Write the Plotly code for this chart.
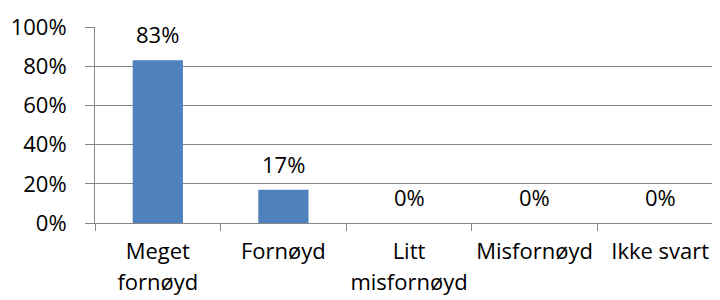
import plotly.graph_objects as go

categories = ["Meget fornøyd", "Fornøyd", "Litt misfornøyd", "Misfornøyd", "Ikke svart"]
tick_labels = ["Meget<br>fornøyd", "Fornøyd", "Litt<br>misfornøyd", "Misfornøyd", "Ikke svart"]
values = [0.83, 0.17, 0.0, 0.0, 0.0]
y_ticks = [0, 0.2, 0.4, 0.6, 0.8, 1.0]
y_tick_labels = ["0%", "20%", "40%", "60%", "80%", "100%"]

FONT = "Open Sans"
FS = 22
GRID = "#878787"
BAR = "#4F81BD"

fig = go.Figure()
fig.add_trace(go.Bar(
    x=categories,
    y=values,
    marker=dict(color=BAR, line=dict(width=0)),
    width=0.4,
    hoverinfo="skip",
))

for c, v in zip(categories, values):
    fig.add_annotation(
        x=c, y=v, text=f"{v:.0%}", showarrow=False,
        yshift=26, yanchor="middle",
        font=dict(family=FONT, size=FS, color="black"),
    )

span = f'<span style="font-size:{FS}px">'
x_tick_text = [span + t.replace("<br>", "</span><br>" + span) + "</span>" for t in tick_labels]

# page body has an 8px margin: compensate so the plot lands where the reference has it
fig.update_layout(
    width=720, height=300,
    margin=dict(l=87, r=5, t=19, b=85),
    paper_bgcolor="white", plot_bgcolor="white",
    showlegend=False,
    font=dict(family=FONT, size=FS, color="black"),
)
fig.update_xaxes(
    range=[-0.5, 4.5], automargin=False,
    tickvals=categories, ticktext=x_tick_text,
    showline=True, linecolor=GRID, linewidth=1,
    ticks="outside", tickson="boundaries", ticklen=7, tickcolor=GRID,
    showgrid=False, tickangle=0, ticklabelstandoff=7,
    tickfont=dict(family=FONT, size=23.5, color="black"),
)
fig.update_yaxes(
    range=[0, 1], automargin=False,
    tickvals=y_ticks, ticktext=y_tick_labels,
    showline=True, linecolor=GRID, linewidth=1,
    ticks="outside", ticklen=9, tickcolor=GRID,
    showgrid=True, gridcolor=GRID, gridwidth=1,
    zeroline=False, ticklabelstandoff=14,
    tickfont=dict(family=FONT, size=FS, color="black"),
)

fig.write_html("out.html")
